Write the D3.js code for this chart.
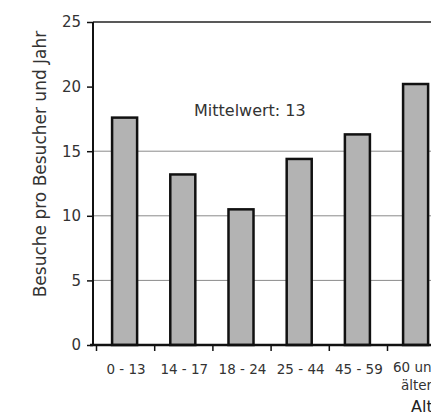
<!DOCTYPE html>
<html><head><meta charset="utf-8">
<script src="https://cdn.jsdelivr.net/npm/d3@7"></script>
<style>body{margin:0;background:#fff;}svg{display:block;font-family:"DejaVu Sans",Verdana,sans-serif;}</style>
</head><body>
<script>
const categories = ["0 - 13", "14 - 17", "18 - 24", "25 - 44", "45 - 59", "60 und älter", ""];
const visits = [17.6, 13.2, 10.5, 14.4, 16.3, 20.2, null];
const yTicks = [0, 5, 10, 15, 20, 25];
const gridValues = [5, 10, 15];
const meanLabel = "Mittelwert: 13";
const yTitle = "Besuche pro Besucher und Jahr";
const xTitle = "Alter";

const W = 431, H = 415;
const svg = d3.select("body").append("svg").attr("width", W).attr("height", H);

const x = d3.scaleBand().domain(categories).range([96.5, 96.5 + 58.2 * categories.length]).paddingInner(0.57).paddingOuter(0.285);
const xb = d3.scaleBand().domain(categories).range([96.5, 96.5 + 58.2 * categories.length]);
const y = d3.scaleLinear().domain([0, 25]).range([345, 22]);

// gridlines
svg.append("g").selectAll("line").data(gridValues).join("line")
  .attr("x1", 94).attr("x2", W).attr("y1", d => y(d)).attr("y2", d => y(d))
  .attr("stroke", "#8a8a8a").attr("stroke-width", 1);
// top border
svg.append("line").attr("x1", 93).attr("x2", W).attr("y1", y(25)).attr("y2", y(25))
  .attr("stroke", "#222").attr("stroke-width", 1.5);

// bars
svg.append("g").selectAll("rect").data(categories.map((c, i) => ({c, v: visits[i]})).filter(d => d.v != null)).join("rect")
  .attr("x", d => x(d.c) - 1).attr("width", x.bandwidth())
  .attr("y", d => y(d.v)).attr("height", d => y(0) - y(d.v))
  .attr("fill", "#b3b3b3").attr("stroke", "#111").attr("stroke-width", 2.5);

// y axis
const ya = svg.append("g").attr("transform", "translate(93,0)")
  .call(d3.axisLeft(y).tickValues(yTicks).tickSize(6).tickPadding(6).tickFormat(d3.format("d")));
ya.select(".domain").attr("stroke", "#111").attr("stroke-width", 2).attr("d", `M0,${y(25)}V${y(0)}`);
ya.selectAll(".tick line").attr("stroke", "#111").attr("stroke-width", 1.5);
ya.selectAll("text").attr("font-size", 15).attr("fill", "#333").attr("font-family", "DejaVu Sans, Verdana, sans-serif");

// x axis
svg.append("line").attr("x1", 90).attr("x2", W).attr("y1", y(0)).attr("y2", y(0)).attr("stroke", "#111").attr("stroke-width", 2.5);
svg.append("g").selectAll("line").data(categories).join("line")
  .attr("x1", d => xb(d)).attr("x2", d => xb(d)).attr("y1", y(0)).attr("y2", y(0) + 6)
  .attr("stroke", "#111").attr("stroke-width", 1.5);
const xl = svg.append("g").selectAll("text").data(categories.filter(c => c)).join("text")
  .attr("x", d => xb(d) + xb.bandwidth() / 2 + 0.5).attr("y", 374)
  .attr("text-anchor", "middle").attr("font-size", 13.5).attr("fill", "#333");
xl.each(function(d) {
  const t = d3.select(this);
  if (d === "60 und älter") {
    t.attr("y", 372);
    t.append("tspan").attr("x", xb(d) + xb.bandwidth()/2).text("60 und");
    t.append("tspan").attr("x", xb(d) + xb.bandwidth()/2).attr("dy", 18).text("älter");
  } else t.text(d);
});

// titles
svg.append("text").attr("transform", "translate(46,164) rotate(-90)").attr("text-anchor", "middle")
  .attr("font-size", 17).attr("fill", "#333").text(yTitle);
svg.append("text").attr("x", 411).attr("y", 412).attr("font-size", 16).attr("fill", "#222").text(xTitle);

// mean label
svg.append("text").attr("x", 194).attr("y", 116).attr("font-size", 16).attr("fill", "#333").text(meanLabel);
</script>
</body></html>
